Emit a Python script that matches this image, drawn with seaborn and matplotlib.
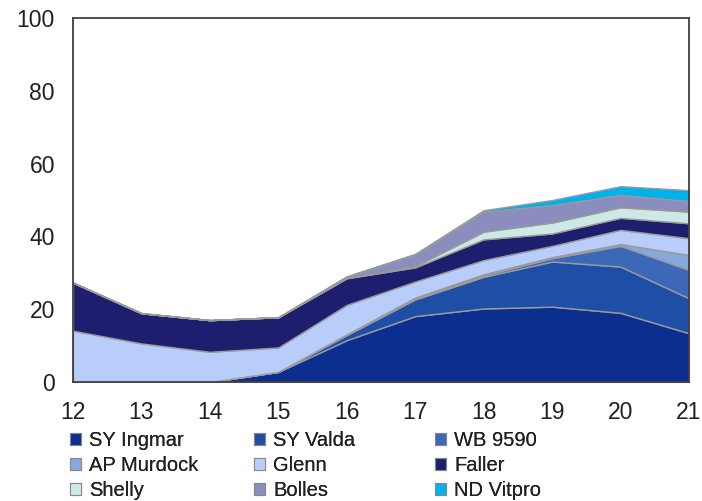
import matplotlib
matplotlib.use("Agg")
import matplotlib.pyplot as plt
import seaborn as sns
import pandas as pd
from matplotlib.patches import Patch

years = [12, 13, 14, 15, 16, 17, 18, 19, 20, 21]
series_names = ["SY Ingmar", "SY Valda", "WB 9590", "AP Murdock", "Glenn",
                "Faller", "Shelly", "Bolles", "ND Vitpro"]
sy_ingmar = [0, 0, 0, 2.8, 11.5, 18.1, 20.2, 20.7, 19.0, 13.4]
sy_valda = [0, 0, 0, 0, 1.4, 4.6, 8.7, 12.4, 12.7, 9.6]
wb_9590 = [0, 0, 0, 0, 0.1, 0.3, 0.4, 0.9, 5.7, 7.8]
ap_murdock = [0, 0, 0, 0, 0.1, 0.2, 0.3, 0.3, 0.5, 4.1]
glenn = [14.1, 10.6, 8.3, 6.7, 8.1, 4.4, 3.9, 3.1, 3.9, 4.6]
faller = [13.2, 8.3, 8.7, 8.3, 7.3, 3.9, 5.7, 3.4, 3.3, 4.1]
shelly = [0, 0, 0, 0, 0.1, 0.3, 2.1, 3.0, 2.9, 3.2]
bolles = [0, 0, 0, 0, 0.4, 3.3, 5.5, 4.8, 3.4, 2.9]
nd_vitpro = [0, 0, 0, 0, 0, 0.1, 0.4, 1.4, 2.4, 3.0]
y_ticks = [0, 20, 40, 60, 80, 100]

colors = ["#0c2e8e", "#1f4ea6", "#3d68b8", "#86a8dc", "#b8cdfa",
          "#1e1e6e", "#cde9e6", "#8b8dbe", "#00b2ea"]

df = pd.DataFrame({
    "year": years,
    "SY Ingmar": sy_ingmar, "SY Valda": sy_valda, "WB 9590": wb_9590,
    "AP Murdock": ap_murdock, "Glenn": glenn, "Faller": faller,
    "Shelly": shelly, "Bolles": bolles, "ND Vitpro": nd_vitpro,
})

sns.set_theme(style="white")
plt.rcParams["font.family"] = ["Liberation Sans", "DejaVu Sans"]

fig = plt.figure(figsize=(7.02, 5.01), dpi=100)
ax = fig.add_axes([73 / 702, 1 - 382 / 501, (689 - 73) / 702, (382 - 18) / 501])

ax.stackplot(df["year"], [df[n] for n in series_names], colors=colors,
             edgecolor="#9a9a9a", linewidth=1.0)

ax.set_xlim(12, 21)
ax.set_ylim(0, 100)
ax.set_xticks(years)
ax.set_yticks(y_ticks)
ax.tick_params(axis="both", labelsize=16.5, colors="#202020", direction="out",
               length=7, width=1.2, pad=6)
ax.tick_params(axis="x", length=6, pad=8)
for sp in ax.spines.values():
    sp.set_color("#404040")
    sp.set_linewidth(1.3)
    sp.set_visible(True)

handles = [Patch(facecolor=c, edgecolor="#888888", linewidth=0.8) for c in colors]
col_x = [70 / 702, 254 / 702, 435 / 702]
for ci in range(3):
    idx = [ci, ci + 3, ci + 6]
    leg = fig.legend([handles[i] for i in idx], [series_names[i] for i in idx],
                     loc="upper left", bbox_to_anchor=(col_x[ci], 1 - 431 / 501),
                     ncol=1, frameon=False, fontsize=14.5, handlelength=0.55,
                     handleheight=0.55, handletextpad=0.4, labelspacing=0.3,
                     borderpad=0, borderaxespad=0)
    for t in leg.get_texts():
        t.set_color("#202020")
    fig.add_artist(leg)

fig.savefig("out.png", dpi=100)
